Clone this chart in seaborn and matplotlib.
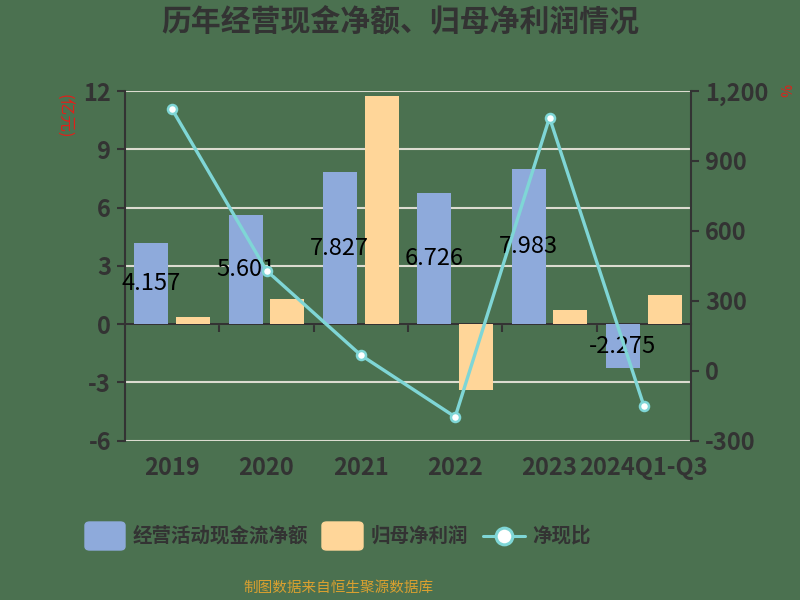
import numpy as np
import pandas as pd
import matplotlib
matplotlib.use("Agg")
import matplotlib.pyplot as plt
import seaborn as sns
from matplotlib.patches import FancyBboxPatch
from matplotlib.lines import Line2D

# ---- data ----
categories = ["2019", "2020", "2021", "2022", "2023", "2024Q1-Q3"]
cash_flow = [4.157, 5.601, 7.827, 6.726, 7.983, -2.275]     # 经营活动现金流净额 (亿元)
net_profit = [0.37, 1.30, 11.72, -3.40, 0.735, 1.52]         # 归母净利润 (亿元)
ratio = [1121, 430, 67, -198, 1086, -150]                     # 净现比 (%)
series_names = ["经营活动现金流净额", "归母净利润", "净现比"]
left_ticks = [-6, -3, 0, 3, 6, 9, 12]
right_ticks = [-300, 0, 300, 600, 900, 1200]

BG = "#4b7150"
BLUE = "#8eaadb"
ORANGE = "#ffd699"
TEAL = "#7fd6d6"
DARK = "#333333"
GRID = "#dcdcd0"

sns.set_theme(style="white")
plt.rcParams["font.family"] = ["Noto Sans CJK SC", "DejaVu Sans"]

df = pd.DataFrame({
    "cat": categories * 2,
    "val": cash_flow + net_profit,
    "series": [series_names[0]] * 6 + [series_names[1]] * 6,
})

fig = plt.figure(figsize=(8, 6), dpi=100, facecolor=BG)
ax = fig.add_axes([0.15625, 0.2655, 0.7075, 0.5828])
ax.set_facecolor(BG)

sns.barplot(data=df, x="cat", y="val", hue="series", order=categories,
            hue_order=series_names[:2], palette=[BLUE, ORANGE],
            width=0.89, gap=0.19, ax=ax, legend=False, errorbar=None,
            saturation=1, linewidth=0)

ax.set_xlim(-0.5, 5.5)
ax.set_ylim(-6, 12)
ax.set_yticks(left_ticks)
ax.set_yticklabels([str(t) for t in left_ticks])
ax.grid(axis="y", color=GRID, linewidth=1.5)
ax.set_axisbelow(True)
ax.set_xlabel("")
ax.set_ylabel("")
for s in ["top", "bottom", "right"]:
    ax.spines[s].set_visible(False)
ax.spines["left"].set_color(DARK)
ax.spines["left"].set_linewidth(1.5)
ax.tick_params(axis="y", colors=DARK, labelsize=17, length=6, width=1.5,
               direction="out", pad=4)
ax.tick_params(axis="x", length=0, labelsize=17, colors=DARK, pad=11)
for lab in ax.get_yticklabels() + ax.get_xticklabels():
    lab.set_fontweight("bold")

# zero axis line with category boundary ticks
ax.axhline(0, color=DARK, linewidth=1.5, zorder=0.8)
sec = ax.secondary_xaxis(1 / 3)
sec.set_xticks(np.arange(len(categories) - 1) + 0.5)
sec.set_xticklabels([])
sec.spines["bottom"].set_color(DARK)
sec.spines["bottom"].set_linewidth(1.5)
sec.tick_params(axis="x", length=6, width=1.5, colors=DARK, direction="out")

# bar value labels (centered in bar)
for i, v in enumerate(cash_flow):
    ax.text(i - 0.2225, v / 2, f"{v:.3f}", ha="center", va="center",
            fontsize=17, color="black", zorder=6)

# secondary axis line
ax2 = ax.twinx()
sns.lineplot(x=np.arange(len(categories)), y=ratio, ax=ax2, color=TEAL,
             linewidth=2.4, marker="o", markersize=6.5, markerfacecolor="white",
             markeredgecolor=TEAL, markeredgewidth=1.8, zorder=5)
ax2.set_ylim(-300, 1200)
ax2.set_yticks(right_ticks)
ax2.set_yticklabels([f"{t:,}" for t in right_ticks])
ax2.grid(False)
for s in ["top", "bottom", "left"]:
    ax2.spines[s].set_visible(False)
ax2.spines["right"].set_color(DARK)
ax2.spines["right"].set_linewidth(1.5)
ax2.tick_params(axis="y", colors=DARK, labelsize=17, length=6, width=1.5,
                direction="out", pad=4)
for lab in ax2.get_yticklabels():
    lab.set_fontweight("bold")

# unit labels
fig.text(0.079, 0.807, "(亿元)", color="#e0201a", fontsize=12, rotation=270,
         ha="center", va="center")
fig.text(0.98, 0.85, "%", color="#e0201a", fontsize=10, rotation=270,
         ha="center", va="center")

# title
fig.text(0.5, 0.962, "历年经营现金净额、归母净利润情况", ha="center", va="center",
         fontsize=21.5, fontweight="bold", color=DARK)

# legend (manual)
y_leg = 1 - 536 / 600
fig.patches.append(FancyBboxPatch((85 / 800, y_leg - 14 / 600), 40 / 800, 28 / 600,
                                  boxstyle="round,pad=0,rounding_size=0.006",
                                  transform=fig.transFigure, color=BLUE))
fig.text(133 / 800, y_leg, series_names[0], fontsize=14, color=DARK,
         va="center", ha="left", fontweight="bold")
fig.patches.append(FancyBboxPatch((322 / 800, y_leg - 14 / 600), 41 / 800, 28 / 600,
                                  boxstyle="round,pad=0,rounding_size=0.006",
                                  transform=fig.transFigure, color=ORANGE))
fig.text(371 / 800, y_leg, series_names[1], fontsize=14, color=DARK,
         va="center", ha="left", fontweight="bold")
fig.lines.append(Line2D([483 / 800, 525 / 800], [y_leg, y_leg], transform=fig.transFigure,
                        color=TEAL, linewidth=2.2))
fig.lines.append(Line2D([504 / 800], [y_leg], transform=fig.transFigure, marker="o",
                        markersize=12, markerfacecolor="white", markeredgecolor=TEAL,
                        markeredgewidth=2.2, linestyle="none"))
fig.text(532 / 800, y_leg, series_names[2], fontsize=14, color=DARK,
         va="center", ha="left", fontweight="bold")

# source
fig.text(338 / 800, 1 - 588 / 600, "制图数据来自恒生聚源数据库", fontsize=10.5,
         color="#d9a030", ha="center", va="center")

fig.savefig("out.png", dpi=100, facecolor=BG)
